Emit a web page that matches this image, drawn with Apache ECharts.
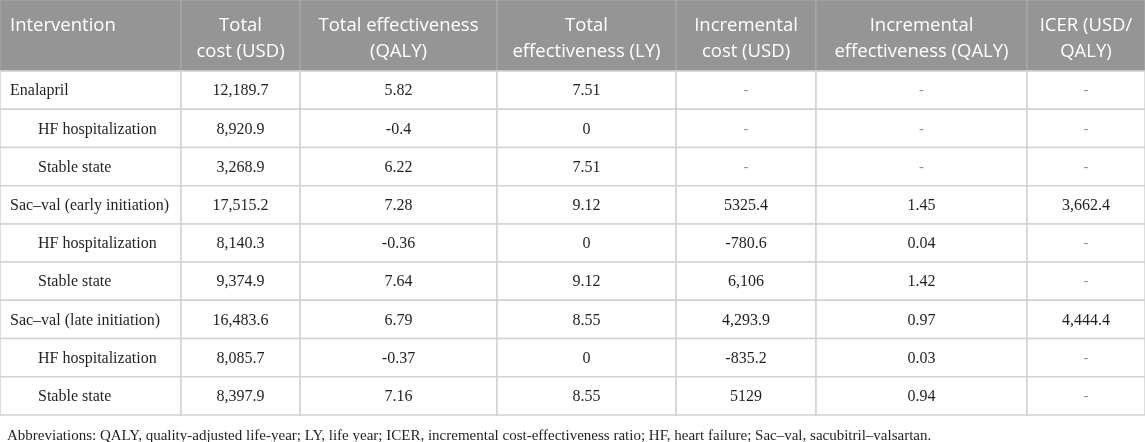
<!DOCTYPE html>
<html>
<head>
<meta charset="utf-8">
<script src="https://cdn.jsdelivr.net/npm/echarts@6/dist/echarts.min.js"></script>
<style>
  html, body { margin: 0; padding: 0; background: #fff; }
  #table_chart { width: 1145px; height: 442px; }
</style>
</head>
<body>
<div id="table_chart"></div>
<script>
// column headers
var headers = ['Intervention', 'Total\ncost (USD)', 'Total effectiveness\n(QALY)', 'Total\neffectiveness (LY)',
    'Incremental\ncost (USD)', 'Incremental\neffectiveness (QALY)', 'ICER (USD/\nQALY)'];
// row labels
var interventions = ['Enalapril', 'HF hospitalization', 'Stable state',
    'Sac–val (early initiation)', 'HF hospitalization', 'Stable state',
    'Sac–val (late initiation)', 'HF hospitalization', 'Stable state'];
var subRow = [false, true, true, false, true, true, false, true, true];
// values per column
var totalCost = ['12,189.7', '8,920.9', '3,268.9', '17,515.2', '8,140.3', '9,374.9', '16,483.6', '8,085.7', '8,397.9'];
var totalQaly = ['5.82', '-0.4', '6.22', '7.28', '-0.36', '7.64', '6.79', '-0.37', '7.16'];
var totalLy = ['7.51', '0', '7.51', '9.12', '0', '9.12', '8.55', '0', '8.55'];
var incCost = ['-', '-', '-', '5325.4', '-780.6', '6,106', '4,293.9', '-835.2', '5129'];
var incQaly = ['-', '-', '-', '1.45', '0.04', '1.42', '0.97', '0.03', '0.94'];
var icer = ['-', '-', '-', '3,662.4', '-', '-', '4,444.4', '-', '-'];
var footnote = 'Abbreviations: QALY, quality-adjusted life-year; LY, life year; ICER, incremental cost-effectiveness ratio; HF, heart failure; Sac–val, sacubitril–valsartan.';

// layout (column edges in px along the x axis)
var colEdges = [0, 181, 300, 497, 676, 816, 1027, 1145];
var headerH = 71;
var bodyH = 344;
var serif = '"Liberation Serif", "DejaVu Serif", serif';
var sans = '"Open Sans", "Noto Sans", sans-serif';

function init() {
    var columns = [interventions, totalCost, totalQaly, totalLy, incCost, incQaly, icer];
    var rowIdx = interventions.map(function (d, i) { return String(i); });

    var headerData = headers.map(function (h, c) { return [c, 0]; });
    var bodyData = [];
    for (var r = 0; r < interventions.length; r++) {
        for (var c = 0; c < columns.length; c++) {
            bodyData.push([c, r]);
        }
    }

    var option = {
        animation: false,
        title: {
            text: footnote,
            left: 2,
            top: 424,
            textStyle: {
                fontFamily: serif,
                fontSize: 15,
                fontWeight: 'normal',
                color: '#231f20'
            }
        },
        grid: [
            {left: 0, right: 0, top: 0, height: headerH},
            {left: 0, right: 0, top: headerH, height: bodyH}
        ],
        xAxis: [
            {gridIndex: 0, type: 'value', min: 0, max: 1145, show: false},
            {gridIndex: 1, type: 'value', min: 0, max: 1145, show: false}
        ],
        yAxis: [
            {gridIndex: 0, type: 'category', data: ['0'], show: false},
            {gridIndex: 1, type: 'category', data: rowIdx, inverse: true, show: false}
        ],
        series: [
            {
                // header row
                type: 'custom',
                xAxisIndex: 0,
                yAxisIndex: 0,
                data: headerData,
                renderItem: function (params, api) {
                    var c = api.value(0);
                    var x0 = api.coord([colEdges[c], 0])[0];
                    var x1 = api.coord([colEdges[c + 1], 0])[0];
                    var h = api.size([0, 1])[1];
                    var top = api.coord([0, 0])[1] - h / 2;
                    return {
                        type: 'group',
                        children: [
                            {
                                type: 'rect',
                                shape: {x: x0, y: top, width: x1 - x0, height: h},
                                style: {fill: '#959595', stroke: '#acacac', lineWidth: 1}
                            },
                            {
                                type: 'text',
                                style: {
                                    text: headers[c],
                                    x: c === 0 ? x0 + 10 : (x0 + x1) / 2,
                                    y: top + 12.5,
                                    align: c === 0 ? 'left' : 'center',
                                    verticalAlign: 'top',
                                    lineHeight: 26,
                                    fontFamily: sans,
                                    fontSize: 18.5,
                                    fill: '#ffffff'
                                }
                            }
                        ]
                    };
                }
            },
            {
                // body cells
                type: 'custom',
                xAxisIndex: 1,
                yAxisIndex: 1,
                data: bodyData,
                renderItem: function (params, api) {
                    var c = api.value(0);
                    var r = api.value(1);
                    var x0 = api.coord([colEdges[c], r])[0];
                    var x1 = api.coord([colEdges[c + 1], r])[0];
                    var cy = api.coord([0, r])[1];
                    var h = api.size([0, 1])[1];
                    var txt = columns[c][r];
                    var isDash = txt === '-';
                    var tx = (x0 + x1) / 2;
                    var align = 'center';
                    if (c === 0) {
                        tx = x0 + (subRow[r] ? 38 : 10);
                        align = 'left';
                    }
                    return {
                        type: 'group',
                        children: [
                            {
                                type: 'rect',
                                shape: {x: x0, y: cy - h / 2, width: x1 - x0, height: h},
                                style: {fill: '#ffffff', stroke: '#d2d2d2', lineWidth: 1.5}
                            },
                            {
                                type: 'text',
                                style: {
                                    text: txt,
                                    x: tx,
                                    y: cy + 1,
                                    align: align,
                                    verticalAlign: 'middle',
                                    fontFamily: isDash ? sans : serif,
                                    fontSize: isDash ? 15 : 16,
                                    fill: isDash ? '#8a8a8a' : '#231f20'
                                }
                            }
                        ]
                    };
                }
            }
        ]
    };

    var table_chart = echarts.init(document.getElementById('table_chart'));
    table_chart.setOption(option);
}

init();
</script>
</body>
</html>
